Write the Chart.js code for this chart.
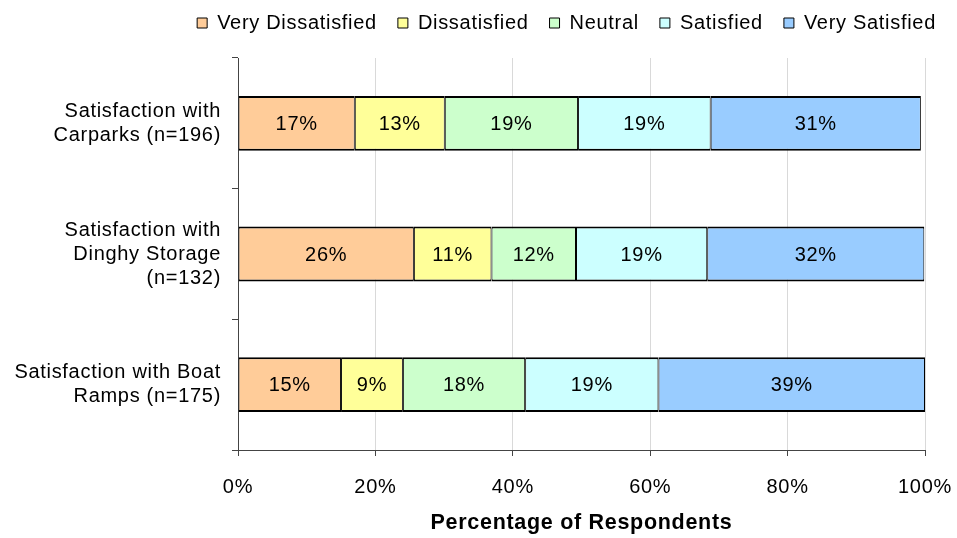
<!DOCTYPE html>
<html>
<head>
<meta charset="utf-8">
<script src="https://cdn.jsdelivr.net/npm/chart.js@4"></script>
<style>
  html, body { margin: 0; padding: 0; background: #fff; }
  #wrap { width: 957px; height: 538px; }
</style>
</head>
<body>
<div id="wrap"><canvas id="chart" width="957" height="538"></canvas></div>
<script>
const categories = [
  ["Satisfaction with", "Carparks (n=196)"],
  ["Satisfaction with", "Dinghy Storage", "(n=132)"],
  ["Satisfaction with Boat", "Ramps (n=175)"]
];
const seriesNames = ["Very Dissatisfied", "Dissatisfied", "Neutral", "Satisfied", "Very Satisfied"];
const veryDissatisfied = [17.0, 25.6, 15.0];
const dissatisfied = [13.1, 11.3, 9.0];
const neutral = [19.4, 12.3, 17.8];
const satisfied = [19.3, 19.1, 19.4];
const verySatisfied = [30.6, 31.6, 38.8];
const xTicks = [0, 20, 40, 60, 80, 100];

const colors = ["#FFCC99", "#FFFF99", "#CCFFCC", "#CCFFFF", "#99CCFF"];
const FONT = "'Liberation Sans', Arial, sans-serif";
const SPACING = "0.7px";

const series = [veryDissatisfied, dissatisfied, neutral, satisfied, verySatisfied];

// the old chart text is slightly spaced out; legend sits close to the top edge
const textSpacing = {
  id: "textSpacing",
  afterInit(chart) { chart.ctx.letterSpacing = SPACING; },
  beforeUpdate(chart) { chart.ctx.letterSpacing = SPACING; },
  afterLayout(chart) {
    if (chart.legend) { chart.legend.top -= 15; chart.legend.bottom -= 15; }
  },
  beforeDraw(chart) { chart.ctx.letterSpacing = SPACING; }
};

// write the rounded percentage in the middle of each segment
const segmentLabels = {
  id: "segmentLabels",
  afterDatasetsDraw(chart) {
    const ctx = chart.ctx;
    ctx.save();
    ctx.font = "20px " + FONT;
    ctx.fillStyle = "#000";
    ctx.textAlign = "center";
    ctx.textBaseline = "middle";
    chart.data.datasets.forEach((ds, i) => {
      chart.getDatasetMeta(i).data.forEach((bar, j) => {
        const x = (bar.x + bar.base) / 2;
        ctx.fillText(Math.round(ds.data[j]) + "%", x, bar.y + 1);
      });
    });
    ctx.restore();
  }
};

const chart = new Chart(document.getElementById("chart"), {
  type: "bar",
  data: {
    labels: categories,
    datasets: series.map((d, i) => ({
      label: seriesNames[i],
      data: d,
      backgroundColor: colors[i],
      borderColor: "#000",
      borderWidth: { top: 2, bottom: 2, left: 1, right: 1 },
      borderSkipped: false,
      categoryPercentage: 1,
      barPercentage: 0.42
    }))
  },
  options: {
    indexAxis: "y",
    responsive: false,
    animation: false,
    layout: { padding: { top: -8, right: 0, left: 0, bottom: 0 } },
    plugins: {
      legend: {
        position: "top",
        align: "end",
        labels: {
          boxWidth: 10,
          boxHeight: 10,
          padding: 21,
          color: "#000",
          font: { family: FONT, size: 20 },
          generateLabels(chart) {
            return chart.data.datasets.map((ds, i) => ({
              text: ds.label,
              fillStyle: ds.backgroundColor,
              strokeStyle: "#000",
              lineWidth: 1,
              datasetIndex: i
            }));
          }
        }
      },
      tooltip: { enabled: false }
    },
    scales: {
      x: {
        stacked: true,
        min: 0,
        max: 100,
        afterBuildTicks(scale) { scale.ticks = xTicks.map(v => ({ value: v })); },
        afterFit(scale) { scale.paddingRight = 32; scale.height = 88; },
        border: { color: "#444", width: 1 },
        grid: { color: "#d9d9d9", lineWidth: 1, tickColor: "#444", tickLength: 6 },
        ticks: {
          color: "#000",
          padding: 19,
          maxRotation: 0,
          font: { family: FONT, size: 20 },
          callback: v => v + "%"
        },
        title: {
          display: true,
          text: "Percentage of Respondents",
          color: "#000",
          font: { family: FONT, size: 21.5, weight: "bold" },
          padding: { top: 11, bottom: 2 }
        }
      },
      y: {
        stacked: true,
        afterFit(scale) { scale.width = 238; scale.paddingTop = 58; },
        border: { color: "#444", width: 1 },
        grid: { drawOnChartArea: false, offset: true, tickColor: "#444", tickLength: 6 },
        ticks: {
          color: "#000",
          padding: 11,
          font: { family: FONT, size: 20, lineHeight: 1.2 }
        }
      }
    }
  },
  plugins: [textSpacing, segmentLabels]
});
</script>
</body>
</html>
